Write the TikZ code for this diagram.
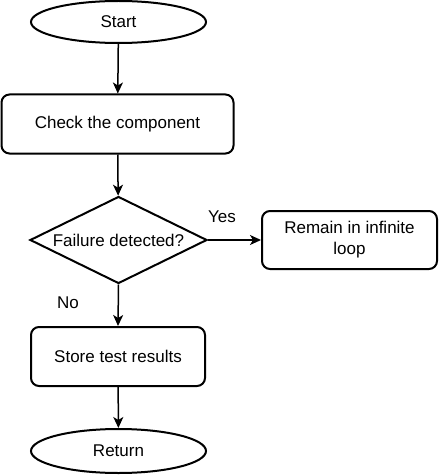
\documentclass[tikz,border=0pt]{standalone}
\usepackage{fontspec}
\setmainfont{Liberation Sans}
\usetikzlibrary{shapes.geometric,arrows.meta}
\begin{document}
\begin{tikzpicture}[x=1pt,y=-1pt,
  every node/.style={font=\fontsize{17}{21}\selectfont, inner sep=0pt},
  term/.style={ellipse, draw, line width=2pt, minimum width=175pt, minimum height=42pt},
  proc/.style={rectangle, rounded corners=8pt, draw, line width=2pt, align=center},
  decide/.style={diamond, draw, line width=2pt, minimum width=177pt, minimum height=87pt},
  conn/.style={line width=1.5pt, -{Stealth[length=11pt,width=10pt,inset=3pt]}},
  lbl/.style={}]
\fill[white] (0,0) rectangle (440,476);
\useasboundingbox (0,0) rectangle (440,476);
\node[term] (start) at (118.5,22) {Start};
\node[proc, minimum width=232pt, minimum height=59pt] (check) at (117.5,124) {Check the component};
\node[decide, label={[font=\fontsize{17}{21}\selectfont]center:Failure detected?}] (dec) at (118.5,240) {};
\node[proc, minimum width=175pt, minimum height=58pt] (remain) at (349.5,240) {Remain in infinite\\loop};
\node[proc, minimum width=174pt, minimum height=59pt] (store) at (118,356.5) {Store test results};
\node[term, minimum height=44pt] (ret) at (118.5,451) {Return};
\draw[conn] (start) -- (check);
\draw[conn] (check) -- (dec);
\draw[conn] (dec.east) -- (remain.west);
\draw[conn] (dec.south) -- (store.north);
\draw[conn] (store) -- (ret);
\node[lbl] (yes) at (222,217) {Yes};
\node[lbl] (no) at (68,303) {No};
\end{tikzpicture}
\end{document}
